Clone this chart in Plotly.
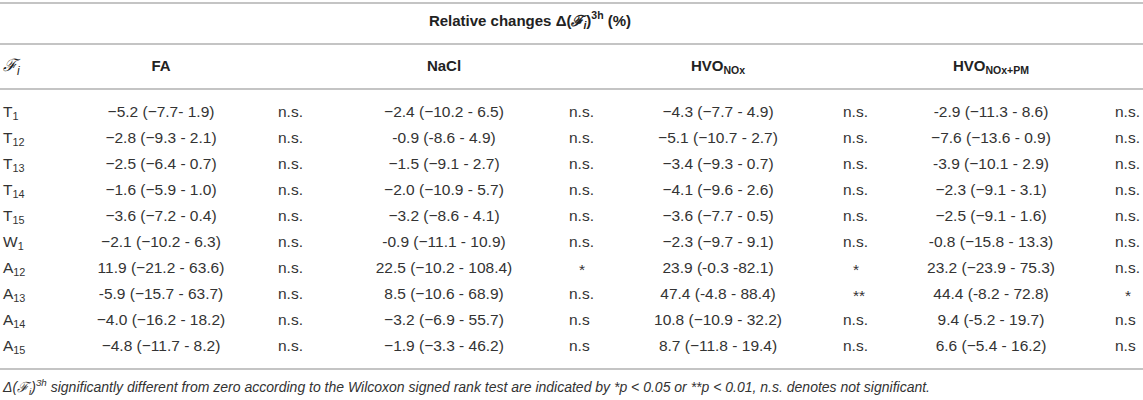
import plotly.graph_objects as go

# row labels
labels = ["T<sub>1</sub>", "T<sub>12</sub>", "T<sub>13</sub>", "T<sub>14</sub>", "T<sub>15</sub>",
          "W<sub>1</sub>", "A<sub>12</sub>", "A<sub>13</sub>", "A<sub>14</sub>", "A<sub>15</sub>"]

# median (range) per exposure, as printed
fa = ["−5.2 (−7.7- 1.9)", "−2.8 (−9.3 - 2.1)", "−2.5 (−6.4 - 0.7)", "−1.6 (−5.9 - 1.0)",
      "−3.6 (−7.2 - 0.4)", "−2.1 (−10.2 - 6.3)", "11.9 (−21.2 - 63.6)", "-5.9 (−15.7 - 63.7)",
      "−4.0 (−16.2 - 18.2)", "−4.8 (−11.7 - 8.2)"]
nacl = ["−2.4 (−10.2 - 6.5)", "-0.9 (-8.6 - 4.9)", "−1.5 (−9.1 - 2.7)", "−2.0 (−10.9 - 5.7)",
        "−3.2 (−8.6 - 4.1)", "-0.9 (−11.1 - 10.9)", "22.5 (−10.2 - 108.4)", "8.5 (−10.6 - 68.9)",
        "−3.2 (−6.9 - 55.7)", "−1.9 (−3.3 - 46.2)"]
hvo_nox = ["−4.3 (−7.7 - 4.9)", "−5.1 (−10.7 - 2.7)", "−3.4 (−9.3 - 0.7)", "−4.1 (−9.6 - 2.6)",
           "−3.6 (−7.7 - 0.5)", "−2.3 (−9.7 - 9.1)", "23.9 (-0.3 -82.1)", "47.4 (-4.8 - 88.4)",
           "10.8 (−10.9 - 32.2)", "8.7 (−11.8 - 19.4)"]
hvo_pm = ["-2.9 (−11.3 - 8.6)", "−7.6 (−13.6 - 0.9)", "-3.9 (−10.1 - 2.9)", "−2.3 (−9.1 - 3.1)",
          "−2.5 (−9.1 - 1.6)", "-0.8 (−15.8 - 13.3)", "23.2 (−23.9 - 75.3)", "44.4 (-8.2 - 72.8)",
          "9.4 (-5.2 - 19.7)", "6.6 (−5.4 - 16.2)"]

# significance
sig_fa = ["n.s."] * 10
sig_nacl = ["n.s."] * 6 + ["*", "n.s.", "n.s", "n.s"]
sig_hvo_nox = ["n.s."] * 6 + ["*", "**", "n.s.", "n.s."]
sig_hvo_pm = ["n.s."] * 6 + ["n.s.", "*", "n.s", "n.s"]

col_names = ["<b>FA</b>", "<b>NaCl</b>", "<b>HVO<sub>NOx</sub></b>", "<b>HVO<sub>NOx+PM</sub></b>"]
title_txt = "<b>Relative changes Δ(<i>ℱ<sub>i</sub></i>)<sup>3h</sup> (%)</b>"
footnote = ("<i>Δ(ℱ<sub>i</sub>)<sup>3h</sup> significantly different from zero according to the "
            "Wilcoxon signed rank test are indicated by *p &lt; 0.05 or **p &lt; 0.01, "
            "n.s. denotes not significant.</i>")

# layout bits (x in pixels, y in row units)
value_x = [161, 444, 718, 991]
sig_x = [278, 569, 843, 1115]
label_x = 3
title_y, header_y, foot_y = -3.5, -1.77, 10.6
rules_y = [-4.23, -2.654, -0.923, 9.846]

FONT = "Liberation Sans, Arial, sans-serif"
TXT = "#333333"
SIZE = 15.5

rows = list(range(len(labels)))
fig = go.Figure()


def text_trace(x, y, text, pos, size=SIZE, color=TXT):
    return go.Scatter(x=x, y=y, text=text, mode="text", textposition=pos,
                      cliponaxis=False, hoverinfo="skip",
                      textfont=dict(family=FONT, size=size, color=color))


fig.add_trace(text_trace([label_x] * len(rows), rows, labels, "middle right"))

for vx, sx, vals, sig in zip(value_x, sig_x, [fa, nacl, hvo_nox, hvo_pm],
                             [sig_fa, sig_nacl, sig_hvo_nox, sig_hvo_pm]):
    fig.add_trace(text_trace([vx] * len(rows), rows, vals, "middle center"))
    xs = [sx + (10 if s.startswith("*") else 0) for s in sig]
    ys = [r + (0.1 if s.startswith("*") else 0) for r, s in zip(rows, sig)]
    fig.add_trace(text_trace(xs, ys, sig, "middle right"))

# header rows
fig.add_trace(text_trace(value_x, [header_y] * 4, col_names, "middle center", size=15,
                         color="#222222"))
fig.add_trace(text_trace([label_x], [header_y], ["<i>ℱ<sub>i</sub></i>"], "middle right",
                         size=17, color="#222222"))
fig.add_trace(text_trace([530], [title_y], [title_txt], "middle center", size=15,
                         color="#222222"))
fig.add_trace(text_trace([label_x], [foot_y], [footnote], "middle right", size=14))

for ry in rules_y:
    fig.add_shape(type="line", xref="x", yref="y", x0=0, x1=1143, y0=ry, y1=ry,
                  line=dict(color="#b0b0b0", width=1.5))

fig.update_layout(
    width=1143, height=400,
    margin=dict(l=0, r=0, t=0, b=0),
    plot_bgcolor="white", paper_bgcolor="white",
    showlegend=False,
    xaxis=dict(range=[0, 1143], visible=False, fixedrange=True),
    yaxis=dict(range=[11.038, -4.346], visible=False, fixedrange=True),
)

# drop the browser's default body margin so the figure sits at the page corner
fig.write_html("out.html", config={"displayModeBar": False},
               post_script="document.body.style.margin='0';")
